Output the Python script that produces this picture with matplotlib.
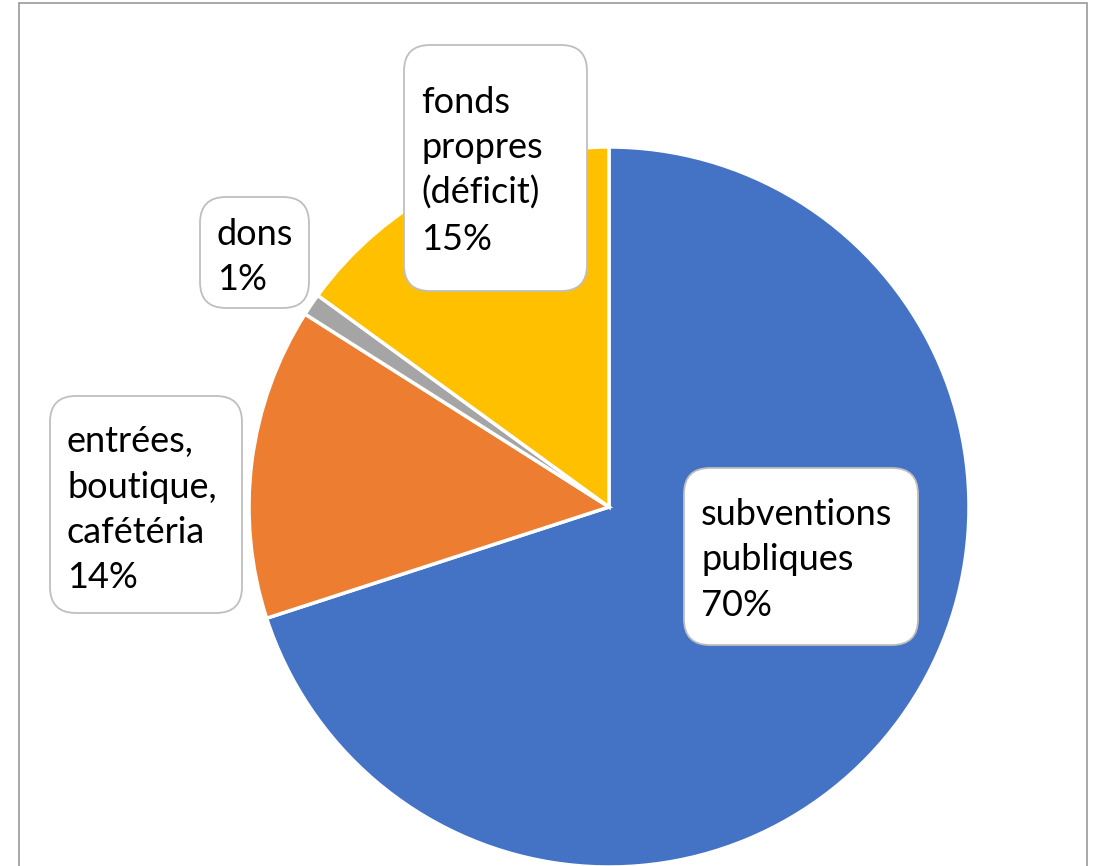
import matplotlib.pyplot as plt
from matplotlib.patches import FancyBboxPatch, Rectangle

# data
labels = ["subventions\npubliques", "entrées,\nboutique,\ncafétéria", "dons", "fonds\npropres\n(déficit)"]
shares = [70, 14, 1, 15]
colors = ["#4472C4", "#ED7D31", "#A5A5A5", "#FFC000"]

# label boxes: left, top, width, height (pixels, from top-left)
boxes = [(684, 468, 234, 177), (50, 396, 192, 217), (200, 197, 109, 111), (404, 45, 183, 246)]
first_base = [525, 452, 245, 113]

W, H = 1100, 866
fig = plt.figure(figsize=(11, 8.66), dpi=100)
ax = fig.add_axes([0, 0, 1, 1])
ax.set_xlim(0, W)
ax.set_ylim(0, H)
ax.set_aspect("equal")
ax.axis("off")

# outer chart frame
ax.add_patch(Rectangle((19, -10), 1068, H - 3 + 10, fill=False, edgecolor="#999999", linewidth=1.2))

ax.pie(shares, colors=colors, startangle=90, counterclock=False,
       center=(609, H - 507), radius=360,
       wedgeprops=dict(edgecolor="white", linewidth=2.5))
ax.set_xlim(0, W)
ax.set_ylim(0, H)

for lab, val, (bx, by, bw, bh), y0 in zip(labels, shares, boxes, first_base):
    ax.add_patch(FancyBboxPatch((bx + 24, H - by - bh + 24), bw - 48, bh - 48,
                                boxstyle="round,pad=24,rounding_size=26",
                                facecolor="white", edgecolor="#BFBFBF", linewidth=1.3, zorder=5))
    lines = lab.split("\n") + [f"{val}%"]
    for i, line in enumerate(lines):
        ax.text(bx + 17, H - (y0 + i * 45.5), line, fontsize=26, family="Lato",
                ha="left", va="baseline", color="black", zorder=6)

fig.savefig("out.png", dpi=100)
